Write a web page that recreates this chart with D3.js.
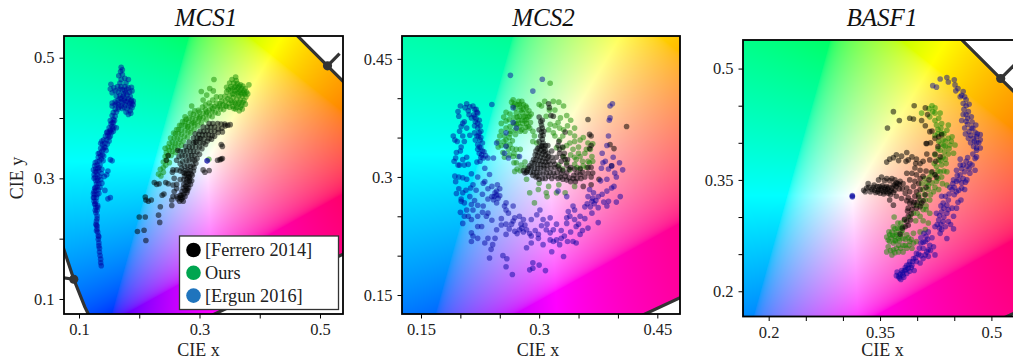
<!DOCTYPE html>
<html>
<head>
<meta charset="utf-8">
<script src="https://cdn.jsdelivr.net/npm/d3@7"></script>
<style>
    html, body { margin: 0; padding: 0; background: #fff; overflow: hidden; }
    svg { display: block; font-family: "Liberation Serif", serif; }
</style>
</head>
<body>
<svg id="chart" width="1013" height="363"></svg>
<script>
// ===========================
// CIE 1931 chromaticity panels
// ===========================

// spectral locus, closed by the purple line
const locus = [[.1741,.0050],[.1440,.0297],[.1241,.0578],[.1096,.0868],[.0913,.1327],[.0687,.2007],[.0454,.2950],[.0235,.4127],[.0082,.5384],
    [.0039,.6548],[.0139,.7502],[.0743,.8338],[.1547,.8059],[.2296,.7543],[.3016,.6923],[.3731,.6245],[.4441,.5547],[.4788,.5202],[.5125,.4866],
    [.5448,.4544],[.5752,.4242],[.6270,.3725],[.6915,.3083],[.7260,.2740],[.7347,.2653]];
// 480 nm and 580 nm marks and the ends of their sticks
const markPoints = [[.0913,.1327],[.5125,.4866]];
const markEnds = [[.068,.136],[.5325,.5066]];

const ferreroMcs1 = [[.197,.212],[.208,.214],[.211,.197],[.200,.236],[.210,.236],[.210,.269],[.211,.264],[.215,.262],[.220,.264],[.225,.293],[.229,.290],[.233,.291],[.232,.239],[.234,.227],[.235,.253],[.238,.272],[.241,.274],[.244,.293],[.248,.291],[.254,.264],[.254,.255],[.256,.270],[.245,.330],[.248,.338],[.256,.314],[.262,.314],[.262,.330],[.264,.346],[.264,.266],[.267,.262],[.268,.268],[.270,.272],[.272,.268],[.271,.278],[.274,.274],[.276,.280],[.273,.284],[.277,.287],[.279,.283],[.281,.290],[.278,.293],[.283,.295],[.279,.298],[.274,.298],[.284,.299],[.275,.304],[.279,.306],[.283,.303],[.286,.307],[.273,.310],[.277,.313],[.281,.314],[.285,.313],[.270,.317],[.275,.320],[.280,.322],[.285,.320],[.289,.322],[.268,.324],[.272,.328],[.278,.330],[.283,.330],[.288,.331],[.292,.330],[.266,.336],[.271,.337],[.276,.338],[.282,.338],[.287,.338],[.292,.338],[.268,.345],[.274,.345],[.279,.346],[.285,.345],[.290,.345],[.296,.344],[.277,.353],[.283,.352],[.288,.352],[.294,.352],[.300,.352],[.283,.360],[.290,.359],[.295,.360],[.301,.359],[.306,.358],[.290,.367],[.296,.367],[.302,.366],[.308,.365],[.313,.362],[.293,.374],[.299,.373],[.305,.372],[.310,.372],[.315,.372],[.321,.371],[.301,.378],[.307,.378],[.313,.379],[.319,.378],[.325,.378],[.313,.385],[.319,.385],[.325,.385],[.331,.382],[.337,.383],[.343,.387],[.347,.388],[.351,.389],[.316,.391],[.322,.391],[.330,.391],[.336,.390],[.342,.390],[.338,.353],[.336,.356],[.336,.332],[.330,.330],[.334,.331],[.338,.333],[.316,.313],[.306,.314],[.309,.310],[.256,.289],[.262,.290],
    [.270,.265],[.273,.262],[.268,.272],[.276,.270],[.279,.276],[.274,.290],[.280,.280],[.282,.284],[.285,.290],[.287,.296],[.281,.301],[.288,.305],[.290,.312],[.282,.308],[.276,.308],[.268,.312],[.291,.318],[.294,.325],[.296,.333],[.300,.340],[.304,.349],[.310,.356],[.316,.366],[.320,.365],[.325,.370],[.331,.376],[.338,.377],[.306,.385],[.300,.366],[.293,.360],[.258,.300],[.255,.310],[.268,.298],[.262,.283],[.258,.278],[.262,.270]];
const oursMcs1 = [[.232,.307],[.236,.304],[.240,.310],[.235,.315],[.240,.318],[.244,.322],[.240,.327],[.245,.330],[.250,.326],[.243,.336],[.248,.338],[.253,.338],[.245,.343],[.250,.346],[.255,.345],[.260,.343],[.248,.352],[.254,.352],[.259,.352],[.264,.350],[.255,.360],[.260,.358],[.265,.358],[.270,.355],[.252,.367],[.258,.367],[.263,.366],[.268,.365],[.273,.362],[.260,.374],[.265,.374],[.270,.373],[.275,.370],[.280,.368],[.265,.381],[.270,.380],[.276,.379],[.281,.377],[.285,.375],[.270,.388],[.276,.387],[.281,.385],[.286,.383],[.291,.381],[.276,.394],[.282,.393],[.287,.391],[.292,.389],[.297,.387],[.283,.400],[.288,.399],[.293,.397],[.298,.395],[.303,.392],[.290,.406],[.296,.404],[.301,.402],[.306,.400],[.311,.397],[.300,.410],[.306,.408],[.311,.406],[.316,.404],[.321,.402],[.310,.414],[.316,.413],[.321,.411],[.326,.409],[.331,.408],[.319,.420],[.325,.419],[.330,.417],[.335,.415],[.340,.414],[.328,.425],[.334,.424],[.339,.422],[.345,.419],[.337,.428],[.343,.428],[.349,.424],[.355,.419],[.360,.415],[.366,.412],[.371,.415],[.352,.429],[.358,.426],[.364,.423],[.370,.421],[.376,.423],[.356,.434],[.362,.432],[.368,.430],[.374,.429],[.350,.437],[.358,.440],[.365,.437],[.371,.436],[.377,.435],[.345,.443],[.352,.445],[.359,.445],[.366,.443],[.372,.442],[.378,.443],[.345,.451],[.352,.452],[.358,.451],[.364,.450],[.370,.449],[.376,.449],[.382,.455],[.350,.458],[.357,.458],[.363,.457],[.368,.455],[.354,.464],[.361,.462],[.360,.468],[.324,.464],[.312,.438],[.303,.444],[.317,.449],[.323,.445],[.306,.430],[.287,.420],[.276,.402],[.3155,.3315],
    [.355,.440],[.362,.447],[.368,.446],[.374,.445],[.360,.453],[.366,.453],[.372,.453],[.354,.449],[.348,.447],[.363,.441],[.369,.440],[.375,.440],[.380,.440],[.366,.426],[.372,.426],[.360,.424],[.354,.426],[.362,.418],[.368,.418],[.357,.416],[.347,.432],[.342,.436],[.335,.435],[.328,.435],[.322,.430],[.316,.425],[.310,.422],[.305,.418],[.298,.413],[.292,.412],[.285,.408],[.278,.398],[.272,.394],[.267,.388],[.262,.381],[.257,.375],[.250,.358],[.243,.350],[.280,.386],[.290,.392],[.300,.400],[.312,.410],[.322,.416],[.333,.420],[.343,.420],[.350,.418]];
const ergunMcs1 = [[.137,.155],[.136,.160],[.136,.166],[.135,.172],[.134,.178],[.134,.184],[.133,.188],[.133,.193],[.132,.199],[.132,.205],[.131,.211],[.130,.216],[.130,.221],[.128,.224],[.129,.229],[.130,.233],[.130,.238],[.128,.243],[.127,.247],[.130,.247],[.128,.252],[.131,.252],[.126,.257],[.125,.262],[.128,.262],[.125,.268],[.129,.268],[.126,.273],[.130,.273],[.133,.275],[.125,.278],[.128,.280],[.132,.281],[.127,.285],[.130,.286],[.135,.285],[.129,.291],[.133,.291],[.138,.292],[.128,.296],[.131,.296],[.136,.298],[.143,.280],[.148,.266],[.152,.268],[.125,.306],[.127,.311],[.130,.306],[.124,.314],[.128,.316],[.133,.312],[.137,.308],[.142,.303],[.146,.306],[.148,.312],[.126,.321],[.130,.322],[.135,.322],[.130,.328],[.134,.329],[.140,.329],[.152,.331],[.155,.329],[.132,.335],[.136,.337],[.134,.342],[.138,.345],[.136,.350],[.140,.348],[.145,.346],[.139,.356],[.143,.358],[.147,.357],[.141,.364],[.146,.364],[.150,.362],[.144,.370],[.148,.371],[.152,.370],[.147,.377],[.152,.378],[.157,.378],[.150,.384],[.155,.386],[.162,.384],[.153,.390],[.157,.392],[.152,.396],[.157,.398],[.155,.404],[.160,.403],[.157,.409],[.162,.410],[.160,.415],[.165,.415],[.155,.420],[.160,.422],[.165,.422],[.170,.420],[.175,.418],[.180,.415],[.185,.412],[.188,.417],[.190,.422],[.186,.408],[.182,.406],[.178,.410],[.172,.425],[.178,.427],[.184,.424],[.190,.428],[.165,.430],[.170,.432],[.176,.433],[.182,.432],[.187,.430],[.162,.436],[.168,.438],[.174,.440],[.180,.438],[.185,.436],[.160,.427],[.155,.425],[.165,.443],[.172,.447],[.152,.448],[.158,.450],[.164,.452],[.170,.452],[.176,.452],[.182,.450],[.187,.451],[.153,.456],[.168,.458],[.178,.458],[.170,.464],[.176,.466],[.182,.464],[.166,.470],[.172,.472],[.169,.477],[.172,.480],[.170,.484],[.3127,.329],[.3127,.329],
    [.124,.275],[.124,.268],[.126,.283],[.131,.300],[.127,.302],[.134,.303],[.125,.300],[.129,.311],[.131,.316],[.127,.326],[.133,.318],[.138,.315],[.137,.332],[.132,.341],[.141,.337],[.139,.339],[.142,.352],[.136,.358],[.144,.351],[.138,.362],[.150,.368],[.146,.376],[.150,.376],[.154,.376],[.156,.382],[.152,.380],[.158,.385],[.155,.392],[.159,.396],[.166,.418],[.172,.416],[.177,.422],[.182,.420],[.186,.420],[.170,.427],[.175,.430],[.180,.428],[.186,.428],[.188,.425],[.163,.425],[.168,.433],[.173,.436],[.178,.442],[.184,.443],[.176,.445],[.160,.445],[.168,.448],[.155,.442],[.179,.448],[.188,.445],[.131,.255],[.127,.258],[.129,.222],[.129,.213],[.133,.203]];

const ferreroMcs2 = [[.300,.376],[.302,.370],[.303,.366],[.304,.362],[.303,.357],[.305,.353],[.304,.348],[.305,.343],[.303,.339],[.306,.336],[.302,.334],[.306,.332],[.300,.331],[.304,.329],[.308,.328],[.298,.327],[.302,.325],[.306,.324],[.310,.323],[.296,.322],[.300,.321],[.304,.320],[.308,.319],[.312,.320],[.294,.317],[.298,.316],[.302,.316],[.306,.315],[.310,.315],[.314,.316],[.290,.312],[.294,.311],[.298,.311],[.302,.311],[.306,.311],[.310,.310],[.315,.311],[.320,.312],[.285,.308],[.289,.306],[.293,.306],[.297,.306],[.301,.305],[.305,.304],[.309,.305],[.314,.305],[.318,.305],[.323,.306],[.328,.304],[.282,.305],[.292,.302],[.298,.301],[.304,.298],[.312,.301],[.320,.301],[.327,.300],[.333,.301],[.338,.299],[.343,.298],[.348,.298],[.353,.298],[.340,.294],[.346,.294],[.312,.393],[.313,.388],[.315,.378],[.318,.377],[.333,.357],[.324,.340],[.326,.335],[.330,.326],[.328,.320],[.335,.315],[.340,.312],[.348,.305],[.355,.306],[.362,.305],[.366,.300],[.376,.297],[.366,.290],[.356,.288],[.364,.354],[.366,.352],[.366,.340],[.364,.336],[.362,.373],[.390,.341],[.395,.336],[.411,.364],[.392,.314],[.352,.310],[.332,.330],[.336,.322],
    [.296,.333],[.298,.336],[.300,.338],[.304,.340],[.308,.340],[.308,.334],[.311,.330],[.312,.326],[.316,.325],[.295,.328],[.293,.322],[.291,.318],[.288,.314],[.286,.311],[.284,.306],[.280,.308],[.296,.300],[.300,.297],[.308,.298],[.316,.298],[.324,.298],[.330,.297],[.335,.296],[.318,.320],[.320,.316],[.324,.313],[.326,.310],[.330,.308],[.322,.325],[.316,.333],[.300,.345],[.302,.352],[.306,.358],[.300,.360],[.304,.372],[.311,.340],[.326,.330],[.325,.345],[.330,.338],[.333,.322],[.338,.310],[.344,.302],[.352,.303],[.358,.300],[.335,.305],[.345,.310],[.368,.305],[.366,.312],[.362,.312]];
const oursMcs2 = [[.314,.419],[.267,.398],[.278,.396],[.280,.386],[.284,.381],[.288,.377],[.267,.390],[.271,.381],[.275,.377],[.282,.371],[.286,.364],[.292,.358],[.255,.376],[.258,.371],[.263,.364],[.271,.367],[.278,.360],[.252,.358],[.258,.347],[.263,.341],[.271,.335],[.248,.345],[.254,.331],[.267,.326],[.271,.318],[.269,.307],[.282,.319],[.294,.352],[.297,.343],[.307,.396],[.318,.396],[.331,.390],[.309,.377],[.314,.367],[.324,.369],[.331,.360],[.339,.356],[.318,.356],[.326,.347],[.339,.343],[.352,.347],[.343,.335],[.362,.343],[.367,.326],[.352,.326],[.347,.322],[.331,.326],[.322,.337],[.356,.314],[.364,.318],[.339,.309],[.299,.284],[.309,.280],[.322,.280],[.333,.280],[.288,.280],[.294,.267],[.284,.297],[.272,.392],[.276,.389],[.280,.392],[.284,.388],[.287,.384],[.278,.382],[.274,.372],[.280,.376],[.284,.373],[.289,.369],[.268,.375],[.263,.380],[.258,.382],[.262,.373],[.276,.364],[.283,.363],[.270,.354],[.262,.350],[.266,.346],[.255,.345],[.261,.335],[.266,.336],[.273,.326],[.272,.310],[.277,.315],[.320,.385],[.303,.390],[.327,.375],[.336,.365],[.345,.352],[.330,.337],[.340,.328],[.350,.338],[.358,.330],[.362,.320],[.345,.316],[.352,.311],[.335,.318],
    [.265,.395],[.269,.393],[.274,.396],[.275,.392],[.270,.387],[.277,.385],[.283,.390],[.282,.377],[.286,.376],[.290,.380],[.278,.372],[.272,.376],[.268,.368],[.273,.368],[.279,.368],[.284,.368],[.288,.362],[.282,.358],[.276,.358],[.270,.360],[.264,.358],[.258,.362],[.252,.368],[.250,.352],[.256,.352],[.263,.355],[.248,.338],[.252,.340],[.258,.340],[.262,.328],[.256,.325],[.268,.330],[.276,.335],[.268,.318],[.276,.308],[.282,.312],[.292,.345],[.300,.392],[.313,.385],[.325,.395],[.335,.378],[.340,.372],[.345,.362],[.330,.352],[.320,.365],[.312,.360],[.335,.340],[.345,.345],[.356,.350],[.360,.335],[.350,.330],[.345,.325],[.355,.320],[.365,.335],[.368,.342],[.368,.320],[.360,.312],[.348,.312],[.330,.310],[.325,.315],[.300,.292],[.312,.288],[.325,.290],[.345,.288],[.310,.275],[.320,.352],[.326,.362]];
const ergunMcs2 = [[.2635,.429],[.304,.424],[.292,.409],[.208,.393],[.200,.390],[.240,.392],[.197,.383],[.198,.377],[.210,.384],[.211,.379],[.218,.386],[.220,.386],[.217,.379],[.220,.374],[.214,.375],[.222,.362],[.224,.356],[.203,.368],[.201,.364],[.199,.358],[.191,.352],[.193,.347],[.203,.352],[.212,.353],[.218,.356],[.219,.347],[.222,.341],[.222,.335],[.227,.328],[.229,.324],[.225,.320],[.195,.331],[.200,.333],[.194,.324],[.203,.322],[.197,.315],[.199,.315],[.205,.315],[.210,.316],[.221,.319],[.235,.324],[.242,.324],[.231,.311],[.237,.303],[.193,.301],[.194,.294],[.203,.299],[.208,.297],[.231,.294],[.229,.292],[.216,.290],[.213,.286],[.203,.280],[.195,.279],[.201,.272],[.201,.269],[.205,.267],[.214,.265],[.210,.250],[.205,.250],[.214,.246],[.203,.241],[.227,.237],[.222,.237],[.214,.229],[.216,.225],[.222,.222],[.214,.218],[.235,.222],[.231,.216],[.241,.214],[.239,.208],[.237,.197],[.254,.200],[.259,.196],[.258,.186],[.266,.176],[.292,.191],[.300,.188],[.292,.184],[.308,.181],[.288,.182],[.284,.210],[.290,.216],[.290,.225],[.299,.227],[.299,.222],[.305,.214],[.314,.220],[.316,.205],[.331,.199],[.284,.233],[.278,.235],[.275,.233],[.269,.231],[.258,.227],[.246,.233],[.244,.222],[.267,.244],[.269,.248],[.275,.250],[.280,.246],[.282,.239],[.256,.263],[.258,.258],[.267,.263],[.261,.254],[.246,.282],[.248,.273],[.242,.271],[.246,.267],[.258,.267],[.229,.263],[.222,.264],[.235,.254],[.222,.250],[.233,.250],[.252,.239],[.393,.393],[.390,.390],[.390,.375],[.389,.372],[.388,.352],[.386,.340],[.384,.320],[.381,.318],[.379,.311],[.392,.314],[.406,.309],[.396,.305],[.386,.297],[.392,.286],[.386,.282],[.403,.275],[.388,.269],[.398,.268],[.386,.263],[.375,.275],[.369,.280],[.364,.284],[.367,.269],[.361,.266],[.370,.266],[.375,.261],[.358,.247],[.367,.254],[.375,.242],[.362,.235],[.352,.227],[.343,.218],[.347,.216],[.337,.256],[.343,.263],[.335,.248],[.339,.250],[.345,.246],[.335,.241],[.347,.237],[.314,.248],[.305,.246],[.318,.233],[.309,.233],[.314,.229],[.322,.220],[.326,.214],[.318,.218],[.297,.252],[.301,.258],[.290,.246],[.324,.282],[.335,.275],[.267,.369],[.258,.356],[.271,.362],[.258,.339],[.275,.326],[.256,.330],[.261,.324],[.246,.343],[.267,.388],[.222,.381],[.219,.370],[.223,.352],[.225,.347],[.224,.330],[.226,.337],[.246,.277],[.243,.275],[.250,.285],
    [.206,.388],[.212,.389],[.216,.390],[.221,.382],[.218,.376],[.224,.372],[.222,.368],[.225,.365],[.218,.365],[.226,.358],[.221,.352],[.226,.350],[.228,.343],[.224,.338],[.230,.332],[.228,.333],[.232,.327],[.226,.325],[.205,.370],[.208,.362],[.196,.345],[.205,.345],[.201,.338],[.192,.320],[.208,.325],[.198,.300],[.214,.304],[.222,.300],[.235,.285],[.240,.288],[.247,.290],[.240,.275],[.244,.280],[.250,.276],[.198,.285],[.207,.283],[.220,.283],[.228,.278],[.235,.272],[.212,.275],[.218,.270],[.208,.258],[.216,.258],[.228,.255],[.200,.255],[.240,.245],[.252,.247],[.258,.240],[.262,.234],[.265,.240],[.272,.228],[.277,.240],[.280,.230],[.288,.228],[.295,.232],[.303,.238],[.310,.240],[.322,.240],[.328,.232],[.332,.225],[.336,.218],[.328,.222],[.340,.230],[.350,.240],[.355,.232],[.352,.250],[.345,.258],[.358,.262],[.365,.262],[.368,.273],[.362,.275],[.372,.270],[.380,.278],[.382,.268],[.395,.288],[.378,.295],[.398,.300],[.394,.325],[.380,.330],[.402,.318],[.388,.310]];

const ferreroBasf1 = [[.328,.336],[.334,.345],[.332,.339],[.337,.334],[.341,.340],[.343,.336],[.346,.341],[.348,.337],[.350,.332],[.352,.339],[.355,.334],[.357,.337],[.359,.341],[.361,.332],[.363,.334],[.366,.339],[.368,.333],[.370,.343],[.372,.346],[.377,.348],[.381,.345],[.386,.339],[.390,.334],[.352,.354],[.359,.352],[.366,.352],[.372,.328],[.379,.325],[.363,.323],[.368,.316],[.388,.312],[.393,.310],[.399,.312],[.404,.314],[.390,.319],[.388,.301],[.386,.294],[.384,.287],[.388,.289],[.377,.277],[.406,.319],[.411,.330],[.420,.361],[.424,.357],[.426,.354],[.431,.381],[.429,.408],[.424,.406],[.433,.411],[.413,.399],[.417,.415],[.359,.374],[.363,.378],[.372,.384],[.379,.382],[.386,.387],[.393,.381],[.388,.377],[.399,.378],[.404,.372],[.408,.375],[.413,.385],[.417,.377],[.386,.359],[.393,.359],[.399,.357],[.390,.350],[.397,.366],[.404,.363],[.397,.348],[.404,.352],[.395,.341],[.399,.334],[.404,.337],[.397,.328],[.368,.442],[.396,.450],[.411,.447],[.360,.420],[.376,.430],[.390,.433],[.406,.430],[.395,.432],[.414,.438],[.411,.423],[.420,.416],[.412,.399],
    [.330,.334],[.335,.340],[.339,.337],[.342,.343],[.344,.333],[.347,.334],[.349,.341],[.351,.336],[.353,.342],[.355,.331],[.356,.340],[.358,.334],[.360,.338],[.362,.340],[.364,.330],[.365,.336],[.368,.343],[.370,.336],[.372,.341],[.374,.345],[.376,.338],[.380,.338],[.384,.332],[.388,.326],[.392,.322],[.396,.320],[.386,.322],[.392,.304],[.395,.316],[.400,.320],[.402,.327],[.408,.322],[.412,.340],[.416,.350],[.391,.296],[.387,.308],[.383,.297],[.380,.285],[.348,.350],[.356,.349],[.363,.349],[.370,.350],[.376,.344],[.402,.345],[.408,.355],[.412,.362],[.398,.372],[.385,.375],[.375,.376],[.368,.380],[.425,.375],[.428,.395],[.424,.385],[.418,.400]];
const oursBasf1 = [[.359,.253],[.366,.249],[.361,.260],[.368,.256],[.375,.253],[.381,.253],[.386,.258],[.393,.258],[.399,.267],[.361,.269],[.368,.265],[.375,.262],[.381,.262],[.390,.267],[.363,.276],[.370,.274],[.381,.271],[.386,.276],[.395,.278],[.366,.280],[.372,.280],[.377,.285],[.381,.287],[.368,.287],[.374,.292],[.369,.300],[.375,.271],[.379,.278],[.363,.267],[.371,.268],[.359,.273],[.404,.280],[.411,.283],[.415,.292],[.417,.305],[.404,.301],[.408,.310],[.399,.316],[.404,.323],[.411,.323],[.417,.323],[.408,.337],[.415,.337],[.422,.334],[.440,.343],[.429,.337],[.413,.346],[.420,.346],[.426,.348],[.433,.354],[.417,.354],[.424,.357],[.431,.361],[.440,.361],[.426,.368],[.433,.370],[.439,.372],[.429,.377],[.435,.381],[.442,.385],[.449,.386],[.431,.390],[.438,.395],[.444,.397],[.451,.397],[.429,.402],[.435,.404],[.442,.406],[.447,.408],[.433,.413],[.440,.417],[.442,.424],[.433,.426],[.426,.424],[.429,.433],[.424,.440],[.417,.435],[.420,.450],[.416,.446],[.424,.447],[.406,.440],[.428,.412],[.436,.396],[.424,.410],
    [.364,.255],[.370,.252],[.372,.258],[.378,.258],[.384,.262],[.389,.262],[.395,.265],[.365,.272],[.362,.280],[.370,.268],[.376,.268],[.384,.270],[.388,.272],[.392,.270],[.367,.275],[.372,.276],[.377,.274],[.374,.285],[.380,.282],[.370,.284],[.378,.292],[.383,.296],[.390,.300],[.395,.305],[.400,.305],[.398,.295],[.408,.295],[.412,.310],[.405,.316],[.412,.315],[.402,.330],[.410,.330],[.418,.330],[.406,.345],[.415,.342],[.424,.340],[.410,.352],[.419,.360],[.428,.352],[.434,.345],[.428,.362],[.436,.362],[.423,.372],[.432,.376],[.438,.378],[.424,.384],[.428,.392],[.437,.388],[.443,.392],[.432,.398],[.438,.402],[.446,.402],[.428,.418],[.436,.412],[.432,.420],[.424,.430],[.431,.440],[.421,.442]];
const ergunBasf1 = [[.375,.220],[.378,.216],[.372,.221],[.377,.223],[.381,.222],[.386,.224],[.383,.228],[.379,.228],[.388,.231],[.390,.227],[.386,.235],[.393,.235],[.396,.228],[.390,.240],[.395,.244],[.399,.240],[.404,.238],[.399,.251],[.405,.248],[.411,.249],[.415,.247],[.408,.258],[.415,.256],[.424,.249],[.405,.265],[.411,.267],[.417,.262],[.409,.278],[.415,.280],[.424,.287],[.431,.278],[.440,.271],[.433,.283],[.438,.287],[.449,.284],[.429,.296],[.435,.294],[.442,.294],[.426,.305],[.433,.307],[.440,.305],[.449,.301],[.435,.319],[.442,.323],[.433,.328],[.453,.312],[.459,.323],[.447,.337],[.453,.334],[.460,.339],[.464,.337],[.460,.346],[.467,.350],[.453,.348],[.458,.357],[.464,.361],[.471,.359],[.453,.363],[.478,.363],[.462,.370],[.471,.372],[.478,.379],[.480,.381],[.458,.378],[.485,.393],[.480,.393],[.476,.395],[.485,.404],[.480,.408],[.476,.406],[.469,.406],[.485,.411],[.479,.424],[.473,.420],[.464,.420],[.466,.429],[.473,.435],[.469,.442],[.462,.438],[.462,.453],[.466,.458],[.460,.464],[.462,.469],[.455,.473],[.451,.478],[.450,.485],[.440,.488],[.431,.486],[.421,.477],[.426,.475],[.442,.482],[.436,.312],[.440,.316],[.443,.331],[.448,.345],[.450,.330],[.455,.320],[.465,.347],[.470,.365],[.475,.385],[.468,.380],[.483,.400],[.472,.410],[.478,.414],[.480,.390],[.465,.412],[.468,.425],[.474,.428],[.460,.430],[.463,.445],[.466,.450],[.458,.462],[.452,.470],[.3127,.329],[.3127,.327],[.3127,.328],
    [.373,.226],[.376,.218],[.380,.225],[.384,.232],[.389,.236],[.382,.219],[.385,.229],[.392,.232],[.394,.240],[.398,.245],[.402,.250],[.408,.244],[.413,.253],[.403,.258],[.408,.266],[.414,.270],[.420,.272],[.412,.274],[.405,.272],[.418,.255],[.422,.260],[.430,.285],[.427,.290],[.432,.290],[.436,.300],[.430,.302],[.445,.290],[.442,.310],[.432,.315],[.447,.312],[.438,.328],[.444,.340],[.450,.340],[.456,.336],[.449,.350],[.456,.350],[.462,.352],[.454,.356],[.460,.365],[.467,.368],[.458,.370],[.474,.370],[.466,.375],[.480,.400],[.477,.402],[.472,.400],[.481,.412],[.470,.415],[.475,.420],[.468,.433],[.466,.438],[.470,.452],[.464,.462]];

const legendLabels = ['[Ferrero 2014]', 'Ours', '[Ergun 2016]'];
const legendColors = ['#000000', '#00a550', '#1f74bd'];

const panels = [
    { title: 'MCS1', box: [64, 36, 343, 314], xDomain: [.0751, .5382], yDomain: [.0751, .536], ticks: d3.range(.1, .51, .1), every: 2, fmt: '.1f',
      titleX: 206, labelX: 198.5,
      ours: oursMcs1, ergun: ergunMcs1, ferrero: ferreroMcs1, yLabel: true, legend: true },
    { title: 'MCS2', box: [402, 36, 680, 314], xDomain: [.1259, .4788], yDomain: [.1259, .479], ticks: d3.range(.15, .46, .05), every: 3, fmt: null,
      titleX: 543.5, labelX: 538,
      ours: oursMcs2, ergun: ergunMcs2, ferrero: ferreroMcs2 },
    { title: 'BASF1', box: [743, 40, 1015, 316.5], xDomain: [.1654, .5318], yDomain: [.166, .5385], ticks: d3.range(.2, .51, .05), every: 3, fmt: null,
      titleX: 882, labelX: 882.5,
      ours: oursBasf1, ergun: ergunBasf1, ferrero: ferreroBasf1 }
];

const svg = d3.select('#chart');

svg.append('defs').append('filter').attr('id', 'soft')
    .append('feGaussianBlur').attr('stdDeviation', .55);

// sRGB colour of a chromaticity, scaled to its brightest channel
function chromaColor(x, y) {
    const X = x / y, Z = (1 - x - y) / y;
    let r = 3.2406 * X - 1.5372 - 0.4986 * Z;
    let g = -0.9689 * X + 1.8758 + 0.0415 * Z;
    let b = 0.0557 * X - 0.2040 + 1.0570 * Z;
    r = Math.max(r, 0); g = Math.max(g, 0); b = Math.max(b, 0);
    const m = Math.max(r, g, b) || 1;
    const enc = v => {
        v = v / m;
        return 255 * (v <= 0.0031308 ? 12.92 * v : 1.055 * Math.pow(v, 1 / 2.4) - 0.055);
    };
    return [enc(r), enc(g), enc(b)];
}

function gamutImage(xScale, yScale, box) {
    const w = Math.ceil(box[2] - box[0]), h = Math.ceil(box[3] - box[1]);
    const canvas = document.createElement('canvas');
    canvas.width = w;
    canvas.height = h;
    const ctx = canvas.getContext('2d');
    const img = ctx.createImageData(w, h);
    for (let j = 0; j < h; j++) {
        for (let i = 0; i < w; i++) {
            const c = chromaColor(xScale.invert(box[0] + i + .5), yScale.invert(box[1] + j + .5));
            const k = 4 * (j * w + i);
            img.data[k] = c[0];
            img.data[k + 1] = c[1];
            img.data[k + 2] = c[2];
            img.data[k + 3] = 255;
        }
    }
    ctx.putImageData(img, 0, 0);
    return canvas.toDataURL();
}

function createPanel(p, index) {
    const [x0, y0, x1, y1] = p.box;
    const xScale = d3.scaleLinear().domain(p.xDomain).range([x0, x1]);
    const yScale = d3.scaleLinear().domain(p.yDomain).range([y1, y0]);
    const project = d => [xScale(d[0]), yScale(d[1])];

    const defs = svg.append('defs');
    defs.append('clipPath').attr('id', `axes-${index}`)
        .append('rect').attr('x', x0).attr('y', y0).attr('width', x1 - x0).attr('height', y1 - y0);
    const locusPath = 'M' + locus.map(project).join('L') + 'Z';
    defs.append('clipPath').attr('id', `locus-${index}`)
        .append('path').attr('d', locusPath);

    const plot = svg.append('g').attr('clip-path', `url(#axes-${index})`);
    plot.append('g').attr('clip-path', `url(#locus-${index})`)
        .append('image')
        .attr('x', x0).attr('y', y0)
        .attr('width', Math.ceil(x1 - x0)).attr('height', Math.ceil(y1 - y0))
        .attr('href', gamutImage(xScale, yScale, p.box));

    plot.append('path').attr('d', locusPath)
        .attr('fill', 'none').attr('stroke', '#333').attr('stroke-width', 3.2);
    plot.selectAll('line.mark').data(markPoints).join('line').attr('class', 'mark')
        .attr('x1', d => xScale(d[0])).attr('y1', d => yScale(d[1]))
        .attr('x2', (d, i) => xScale(markEnds[i][0])).attr('y2', (d, i) => yScale(markEnds[i][1]))
        .attr('stroke', '#333').attr('stroke-width', 3.2);
    plot.selectAll('circle.mark').data(markPoints).join('circle').attr('class', 'mark')
        .attr('cx', d => xScale(d[0])).attr('cy', d => yScale(d[1]))
        .attr('r', 4.6).attr('fill', '#333');

    const series = [
        { data: p.ours, color: '#108a00', opacity: .5 },
        { data: p.ferrero, color: '#000000', opacity: .52 },
        { data: p.ergun, color: '#00009c', opacity: .48 }
    ];
    series.forEach(s => {
        plot.append('g').attr('filter', 'url(#soft)').selectAll('circle').data(s.data).join('circle')
            .attr('cx', d => xScale(d[0])).attr('cy', d => yScale(d[1]))
            .attr('r', 2.8)
            .attr('fill', s.color)
            .attr('fill-opacity', s.opacity);
    });

    const fmt = p.fmt ? d3.format(p.fmt) : (v => String(+v.toFixed(2)));
    const label = (d, i) => (i % p.every === 0 ? fmt(d) : '');
    const xAxis = d3.axisBottom(xScale).tickValues(p.ticks).tickSize(4.5).tickPadding(5).tickFormat(label);
    const yAxis = d3.axisLeft(yScale).tickValues(p.ticks).tickSize(4.5).tickPadding(5).tickFormat(label);
    [svg.append('g').attr('transform', `translate(0,${y1})`).call(xAxis),
     svg.append('g').attr('transform', `translate(${x0},0)`).call(yAxis)].forEach(g => {
        g.select('.domain').remove();
        g.selectAll('line').attr('stroke', '#000').attr('stroke-width', 1);
        g.selectAll('text').attr('fill', '#222').attr('font-size', 16.5).attr('font-family', '"Liberation Serif", serif');
    });

    svg.append('rect').attr('x', x0).attr('y', y0).attr('width', x1 - x0).attr('height', y1 - y0)
        .attr('fill', 'none').attr('stroke', '#000').attr('stroke-width', 1.8);

    svg.append('text').attr('x', p.titleX).attr('y', 26)
        .attr('text-anchor', 'middle').attr('font-size', 25).attr('font-style', 'italic').attr('fill', '#111')
        .text(p.title);
    svg.append('text').attr('x', p.labelX).attr('y', 356)
        .attr('text-anchor', 'middle').attr('font-size', 18).attr('fill', '#222')
        .text('CIE x');
    if (p.yLabel) {
        svg.append('text').attr('transform', `translate(23,178) rotate(-90)`)
            .attr('text-anchor', 'middle').attr('font-size', 18).attr('fill', '#222')
            .text('CIE y');
    }
    if (p.legend) {
        const lg = svg.append('g');
        lg.append('rect').attr('x', 179.5).attr('y', 236).attr('width', 159).attr('height', 73.5)
            .attr('fill', '#fff').attr('stroke', '#333').attr('stroke-width', 1.3);
        legendLabels.forEach((t, i) => {
            const y = 250 + i * 22.8;
            lg.append('circle').attr('cx', 193.5).attr('cy', y).attr('r', 7.3).attr('fill', legendColors[i]);
            lg.append('text').attr('x', 205).attr('y', y + 6).attr('font-size', 18.3).attr('fill', '#222').text(t);
        });
    }
}

panels.forEach(createPanel);
</script>
</body>
</html>
